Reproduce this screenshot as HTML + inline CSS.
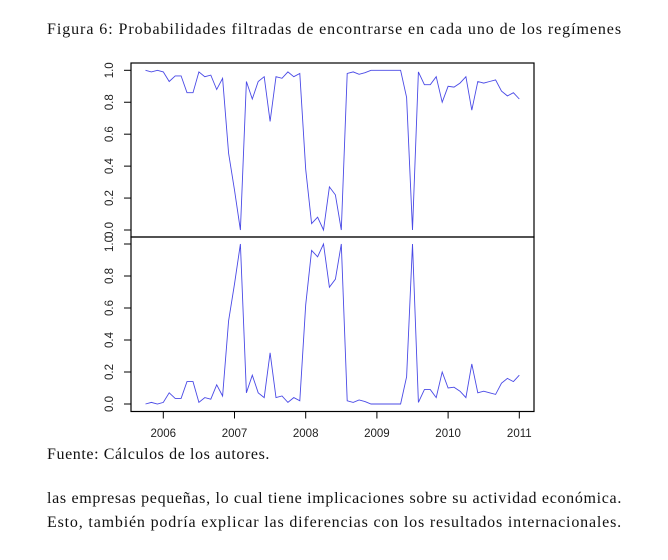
<!DOCTYPE html>
<html><head><meta charset="utf-8"><style>
body{margin:0;width:668px;height:560px;background:#fff;overflow:hidden;font-family:"Liberation Serif",serif;color:#111}
.t{position:absolute;left:47px;font-size:16px;white-space:nowrap}
</style></head><body>
<div class="t" style="top:21px" data-w="575">Figura 6: Probabilidades filtradas de encontrarse en cada uno de los regímenes</div>
<svg id="c" width="668" height="560" style="position:absolute;left:0;top:0"></svg>
<div class="t" style="top:446px" data-w="223">Fuente: Cálculos de los autores.</div>
<div class="t" style="top:490px" data-w="575">las empresas pequeñas, lo cual tiene implicaciones sobre su actividad económica.</div>
<div class="t" style="top:514px" data-w="575">Esto, también podría explicar las diferencias con los resultados internacionales.</div>
<script>
document.querySelectorAll('.t').forEach(e=>{const w=+e.dataset.w;const n=e.textContent.length;const cur=e.getBoundingClientRect().width;e.style.letterSpacing=((w-cur)/n)+'px';});
const startYear=2005.75;
const regime2=[0,0.01,0,0.01,0.07,0.035,0.035,0.14,0.14,0.01,0.04,0.03,0.12,0.05,0.52,0.75,1.0,0.07,0.18,0.07,0.04,0.32,0.04,0.05,0.01,0.04,0.02,0.62,0.96,0.92,1.0,0.73,0.78,1.0,0.02,0.01,0.025,0.015,0,0,0,0,0,0,0.17,1.0,0.01,0.09,0.09,0.04,0.2,0.1,0.105,0.08,0.04,0.25,0.07,0.08,0.07,0.06,0.13,0.16,0.14,0.18];
const regime1=[1.0,0.99,1.0,0.99,0.93,0.965,0.965,0.86,0.86,0.99,0.96,0.97,0.88,0.95,0.48,0.25,0,0.93,0.82,0.93,0.96,0.68,0.96,0.95,0.99,0.96,0.98,0.38,0.04,0.08,0,0.27,0.22,0,0.98,0.99,0.975,0.985,1,1,1,1,1,1,0.83,0,0.99,0.91,0.91,0.96,0.8,0.9,0.895,0.92,0.96,0.75,0.93,0.92,0.93,0.94,0.87,0.84,0.86,0.82];
const yTicks=[0,0.2,0.4,0.6,0.8,1.0];
const xTicks=[2006,2007,2008,2009,2010,2011];
const svg=document.getElementById('c');const NS='http://www.w3.org/2000/svg';
function mk(t,a,p){const e=document.createElementNS(NS,t);for(const k in a)e.setAttribute(k,a[k]);(p||svg).appendChild(e);return e;}
const X=v=>163.3+(v-2006)*71.2;
const L=131,R=534;
const panels=[{data:regime1,top:63,bot:237,y0:230,y1:70.3,name:'top'},{data:regime2,top:237,bot:411.5,y0:404,y1:244,name:'bottom'}];
panels.forEach(p=>{
 const Y=v=>p.y0+(p.y1-p.y0)*v;
 const box=mk('rect',{x:L,y:p.top,width:R-L,height:p.bot-p.top,fill:'none',stroke:'#000','stroke-width':1.2});
 
 
 yTicks.forEach(v=>{
  const y=Y(v);
  const tk=mk('line',{x1:L-7,x2:L,y1:y,y2:y,stroke:'#000'});
  
  
  const tx=mk('text',{x:0,y:0,transform:`translate(113,${y}) rotate(-90)`,'text-anchor':'middle','font-family':'Liberation Sans, sans-serif','font-size':'11.5',fill:'#222'});
  tx.textContent=v.toFixed(1);
  
  
 });
 const pts=p.data.map((v,i)=>X(startYear+i/12).toFixed(1)+','+Y(v).toFixed(1)).join(' ');
 const ln=mk('polyline',{points:pts,fill:'none',stroke:'#4a4ae6','stroke-width':0.9});
 
 
});
xTicks.forEach(v=>{
 const x=X(v);
 const tk=mk('line',{x1:x,x2:x,y1:411.5,y2:418.5,stroke:'#000'});
 
 
 const tx=mk('text',{x:x,y:437,'text-anchor':'middle','font-family':'Liberation Sans, sans-serif','font-size':'11.5',fill:'#222'});
 tx.textContent=v;
 
 
});
</script>
</body></html>
